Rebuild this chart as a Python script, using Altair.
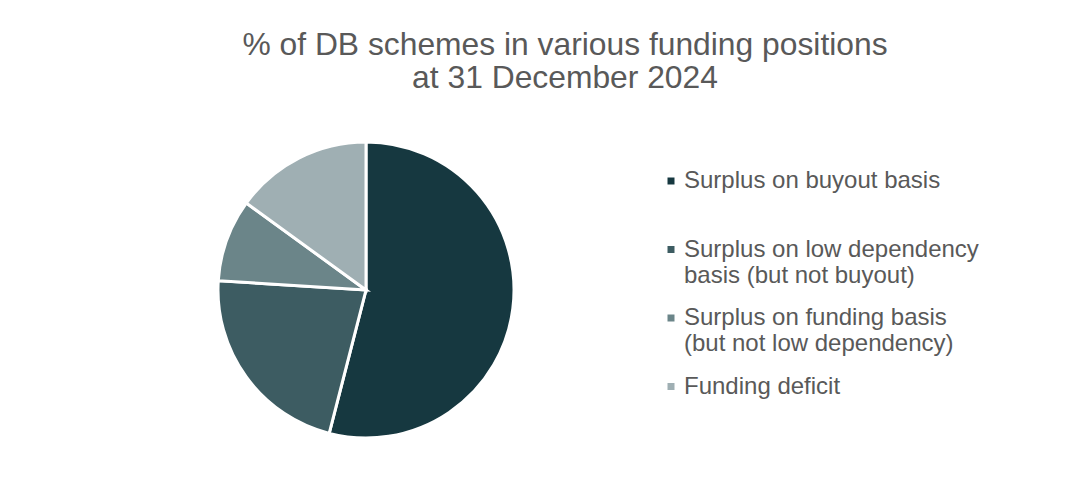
import altair as alt
import pandas as pd

categories = [
    "Surplus on buyout basis| ",
    "Surplus on low dependency|basis (but not buyout)",
    "Surplus on funding basis|(but not low dependency)",
    "Funding deficit| ",
]
values = [54, 22, 9, 15]
colors = ["#163840", "#3d5c62", "#6b8589", "#9fafb3"]

df = pd.DataFrame({"category": categories, "value": values, "order": list(range(len(categories)))})

chart = (
    alt.Chart(df)
    .mark_arc(outerRadius=148, stroke="white", strokeWidth=3)
    .encode(
        theta=alt.Theta("value:Q", stack=True),
        order=alt.Order("order:Q"),
        color=alt.Color(
            "category:N",
            sort=categories,
            scale=alt.Scale(domain=categories, range=colors),
            legend=alt.Legend(
                title=None,
                orient="none",
                legendX=651,
                legendY=61,
                symbolType="square",
                symbolSize=49,
                symbolStrokeWidth=0,
                labelFont="Liberation Sans",
                labelFontSize=24,
                labelColor="#595959",
                labelLimit=420,
                labelExpr="split(datum.label, '|')",
                labelBaseline="middle",
                rowPadding=18.5,
                labelOffset=1,
            ),
        ),
    )
    .properties(
        width=716,
        height=364,
        padding={"top": 100, "left": 0, "right": 346, "bottom": 8},
        autosize=alt.AutoSizeParams(type="none"),
        title=alt.TitleParams(
            text=["% of DB schemes in various funding positions", "at 31 December 2024"],
            font="Liberation Sans",
            fontSize=31.8,
            fontWeight="normal",
            color="#595959",
            lineHeight=33,
            anchor="middle",
            dx=199,
            offset=13,
        ),
    )
    .configure_view(stroke=None)
)

chart.save("out.html", embed_options={"renderer": "svg", "actions": False})
